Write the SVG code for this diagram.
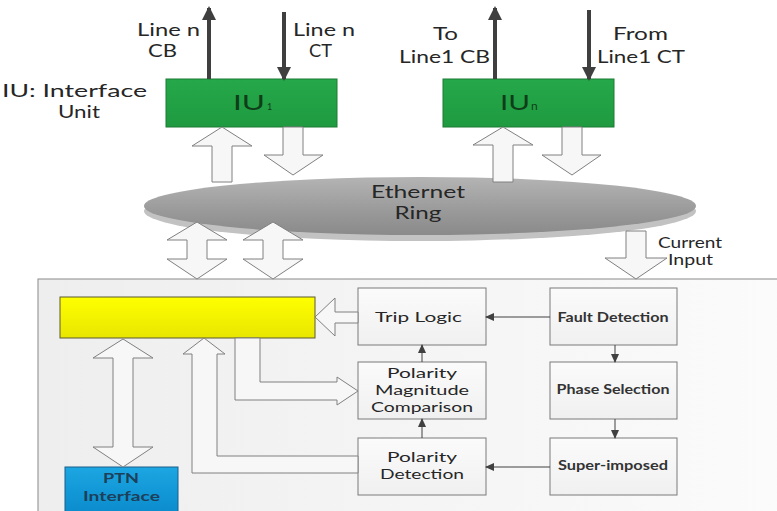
<svg xmlns="http://www.w3.org/2000/svg" width="777" height="511" viewBox="0 0 777 511">
<defs>
<style>
text{font-family:Lato,"Open Sans","Noto Sans",sans-serif;fill:#262626}
.lbl{font-size:17px}
.box{fill:url(#boxg);stroke:#7a7a7a;stroke-width:1}
.bt{font-size:13px;font-weight:bold;fill:#333}
.bt2{font-size:14px;fill:#262626}
.blk{fill:#f7f7f7;stroke:#808080;stroke-width:1}
.thick{stroke:#3f3f3f;stroke-width:4;fill:none}
.thin{stroke:#404040;stroke-width:1;fill:none}
</style>
<linearGradient id="bg" x1="0" y1="0" x2="1" y2="0">
<stop offset="0" stop-color="#eeeeee"/>
<stop offset="1" stop-color="#fbfbfb"/>
</linearGradient>
<linearGradient id="boxg" x1="0" y1="0" x2="0" y2="1">
<stop offset="0" stop-color="#fbfbfb"/>
<stop offset="1" stop-color="#f0f0f0"/>
</linearGradient>
<linearGradient id="yel" x1="0" y1="0" x2="0" y2="1">
<stop offset="0" stop-color="#ffff00"/>
<stop offset="1" stop-color="#e8e600"/>
</linearGradient>
<linearGradient id="grn" x1="0" y1="0" x2="0" y2="1">
<stop offset="0" stop-color="#25a84a"/>
<stop offset="1" stop-color="#1f9a40"/>
</linearGradient>
<linearGradient id="blu" x1="0" y1="0" x2="0" y2="1">
<stop offset="0" stop-color="#1ca6e2"/>
<stop offset="1" stop-color="#0b8ccd"/>
</linearGradient>
<linearGradient id="eth" x1="0" y1="0" x2="0" y2="1">
<stop offset="0" stop-color="#b4b4b4"/>
<stop offset="0.6" stop-color="#999999"/>
<stop offset="1" stop-color="#8a8a8a"/>
</linearGradient>
<marker id="ah" markerUnits="userSpaceOnUse" markerWidth="9" markerHeight="8" refX="8" refY="4" orient="auto">
<path d="M0,0 L9,4 L0,8 Z" fill="#404040"/>
</marker>
<marker id="bh" markerUnits="userSpaceOnUse" markerWidth="14" markerHeight="14" refX="12" refY="7" orient="auto">
<path d="M0,0 L14,7 L0,14 Z" fill="#3f3f3f"/>
</marker>
</defs>

<rect width="777" height="511" fill="#ffffff"/>

<g id="container">
<rect x="38" y="279" width="745" height="240" fill="url(#bg)" stroke="#8a8a8a" stroke-width="1"/>
</g>

<g id="ethernet-ring">
<ellipse cx="420" cy="211" rx="276" ry="30" fill="#c2c2c2"/>
<ellipse cx="420" cy="206" rx="276" ry="29" fill="url(#eth)"/>
<text x="418" y="198" text-anchor="middle" font-size="18" textLength="94" lengthAdjust="spacingAndGlyphs">Ethernet</text>
<text x="418" y="219" text-anchor="middle" font-size="18" textLength="47" lengthAdjust="spacingAndGlyphs">Ring</text>
</g>

<g id="iu-label">
<text x="2" y="97" class="lbl" textLength="145" lengthAdjust="spacingAndGlyphs">IU: Interface</text>
<text x="58" y="118" class="lbl" textLength="42" lengthAdjust="spacingAndGlyphs">Unit</text>
</g>

<g id="iu1">
<rect x="166" y="79" width="171" height="48" fill="url(#grn)" stroke="#1c7a34" stroke-width="1"/>
<text x="233" y="110" font-size="21" style="fill:#0f3d18" textLength="32" lengthAdjust="spacingAndGlyphs">IU</text>
<text x="267" y="110" font-size="9" style="fill:#0f3d18">1</text>
</g>

<g id="iun">
<rect x="443" y="79" width="171" height="48" fill="url(#grn)" stroke="#1c7a34" stroke-width="1"/>
<text x="500" y="110" font-size="21" style="fill:#0f3d18" textLength="30" lengthAdjust="spacingAndGlyphs">IU</text>
<text x="531" y="110" font-size="12" style="fill:#0f3d18">n</text>
</g>

<g id="line-labels">
<text x="137" y="36" class="lbl" textLength="63" lengthAdjust="spacingAndGlyphs">Line n</text>
<text x="148" y="57" class="lbl" textLength="29" lengthAdjust="spacingAndGlyphs">CB</text>
<text x="293" y="36" class="lbl" textLength="62" lengthAdjust="spacingAndGlyphs">Line n</text>
<text x="309" y="57" class="lbl" textLength="23" lengthAdjust="spacingAndGlyphs">CT</text>
<text x="433" y="40" class="lbl" textLength="25" lengthAdjust="spacingAndGlyphs">To</text>
<text x="399" y="63" class="lbl" textLength="91" lengthAdjust="spacingAndGlyphs">Line1 CB</text>
<text x="613" y="40" class="lbl" textLength="55" lengthAdjust="spacingAndGlyphs">From</text>
<text x="597" y="63" class="lbl" textLength="88" lengthAdjust="spacingAndGlyphs">Line1 CT</text>
<text x="658" y="248" font-size="15" textLength="64" lengthAdjust="spacingAndGlyphs">Current</text>
<text x="668" y="265" font-size="15" textLength="45" lengthAdjust="spacingAndGlyphs">Input</text>
</g>

<g id="main-unit">
<rect x="60" y="297" width="255" height="41" fill="url(#yel)" stroke="#5a5a30" stroke-width="1"/>
</g>

<g id="ptn-interface">
<rect x="65" y="467" width="113" height="46" fill="url(#blu)" stroke="#1b5f8a" stroke-width="1"/>
<text x="121" y="483" text-anchor="middle" font-size="14" font-weight="bold" style="fill:#1d3f5a" textLength="36" lengthAdjust="spacingAndGlyphs">PTN</text>
<text x="83" y="501" font-size="14" font-weight="bold" style="fill:#1d3f5a" textLength="77" lengthAdjust="spacingAndGlyphs">Interface</text>
</g>

<g id="trip-logic">
<rect x="358" y="288" width="128" height="57" class="box"/>
<text x="375" y="322" class="bt2" textLength="87" lengthAdjust="spacingAndGlyphs">Trip Logic</text>
</g>

<g id="pmc">
<rect x="358" y="362" width="128" height="57" class="box"/>
<text x="422" y="378" class="bt2" text-anchor="middle" textLength="70" lengthAdjust="spacingAndGlyphs">Polarity</text>
<text x="422" y="395" class="bt2" text-anchor="middle" textLength="94" lengthAdjust="spacingAndGlyphs">Magnitude</text>
<text x="422" y="412" class="bt2" text-anchor="middle" textLength="102" lengthAdjust="spacingAndGlyphs">Comparison</text>
</g>

<g id="polarity-detection">
<rect x="358" y="438" width="128" height="57" class="box"/>
<text x="422" y="462" class="bt2" text-anchor="middle" textLength="70" lengthAdjust="spacingAndGlyphs">Polarity</text>
<text x="422" y="479" class="bt2" text-anchor="middle" textLength="84" lengthAdjust="spacingAndGlyphs">Detection</text>
</g>

<g id="fault-detection">
<rect x="550" y="288" width="127" height="57" class="box"/>
<text x="613" y="322" class="bt" text-anchor="middle" textLength="111" lengthAdjust="spacingAndGlyphs">Fault Detection</text>
</g>

<g id="phase-selection">
<rect x="550" y="362" width="127" height="57" class="box"/>
<text x="613" y="394" class="bt" text-anchor="middle" textLength="113" lengthAdjust="spacingAndGlyphs">Phase Selection</text>
</g>

<g id="super-imposed">
<rect x="550" y="438" width="127" height="57" class="box"/>
<text x="613" y="470" class="bt" text-anchor="middle" textLength="110" lengthAdjust="spacingAndGlyphs">Super-imposed</text>
</g>

<g id="connectors">
<line x1="209" y1="79" x2="209" y2="8" class="thick" marker-end="url(#bh)"/>
<line x1="284" y1="12" x2="284" y2="79" class="thick" marker-end="url(#bh)"/>
<line x1="495" y1="79" x2="495" y2="8" class="thick" marker-end="url(#bh)"/>
<line x1="589" y1="10" x2="589" y2="79" class="thick" marker-end="url(#bh)"/>
<path class="blk" d="M222,127 L252,146 L232,146 L232,182 L212,182 L212,146 L192,146 Z"/>
<path class="blk" d="M283,127 L303,127 L303,155 L323,155 L293,175 L264,155 L283,155 Z"/>
<path class="blk" d="M503,127 L533,145 L513,145 L513,182 L493,182 L493,145 L473,145 Z"/>
<path class="blk" d="M562,127 L582,127 L582,155 L601,155 L572,175 L542,155 L562,155 Z"/>
<path class="blk" d="M197,222 L227,240 L207,240 L207,259 L227,259 L197,279 L167,259 L187,259 L187,240 L167,240 Z"/>
<path class="blk" d="M273,222 L303,240 L283,240 L283,259 L303,259 L273,279 L243,259 L263,259 L263,240 L243,240 Z"/>
<path class="blk" d="M626,231 L646,231 L646,258 L667,258 L636,279 L605,258 L626,258 Z"/>
<path class="blk" d="M123,339 L153,358 L133,358 L133,447 L153,447 L123,467 L93,447 L113,447 L113,358 L93,358 Z"/>
<path class="blk" d="M315,317 L335,298 L335,312 L358,312 L358,323 L335,323 L335,336 Z"/>
<path class="blk" d="M235,338 L235,400 L337,400 L337,405 L358,391 L337,377 L337,382 L260,382 L260,338 Z"/>
<path class="blk" d="M358,473 L192,473 L192,354 L183,354 L204,338 L225,354 L217,354 L217,456 L358,456 Z"/>
<line x1="550" y1="317" x2="486" y2="317" class="thin" marker-end="url(#ah)"/>
<line x1="615" y1="345" x2="615" y2="362" class="thin" marker-end="url(#ah)"/>
<line x1="615" y1="419" x2="615" y2="438" class="thin" marker-end="url(#ah)"/>
<line x1="550" y1="467" x2="486" y2="467" class="thin" marker-end="url(#ah)"/>
<line x1="422" y1="438" x2="422" y2="419" class="thin" marker-end="url(#ah)"/>
<line x1="422" y1="362" x2="422" y2="345" class="thin" marker-end="url(#ah)"/>
</g>
</svg>
